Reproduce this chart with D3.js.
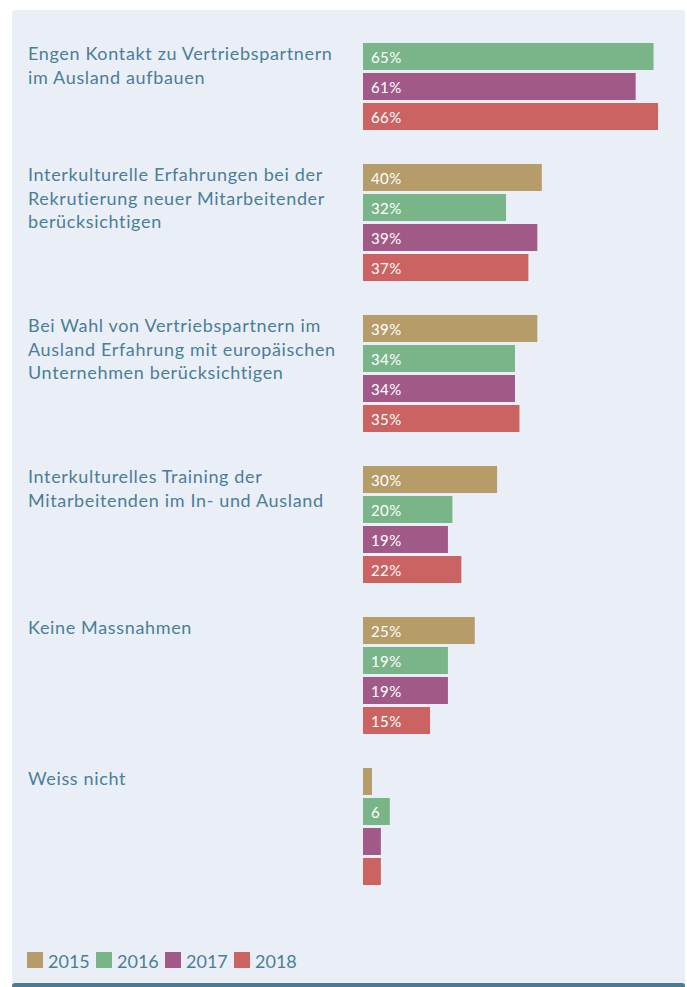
<!DOCTYPE html>
<html><head><meta charset="utf-8">
<script src="https://cdn.jsdelivr.net/npm/d3@7"></script>
<style>html,body{margin:0;padding:0;background:#fff;}svg{display:block;}</style>
</head><body>
<svg id="chart" width="687" height="987"></svg>
<script>
const categories = [
  ["Engen Kontakt zu Vertriebspartnern", "im Ausland aufbauen"],
  ["Interkulturelle Erfahrungen bei der", "Rekrutierung neuer Mitarbeitender", "berücksichtigen"],
  ["Bei Wahl von Vertriebspartnern im", "Ausland Erfahrung mit europäischen", "Unternehmen berücksichtigen"],
  ["Interkulturelles Training der", "Mitarbeitenden im In- und Ausland"],
  ["Keine Massnahmen"],
  ["Weiss nicht"]
];
const years = ["2015", "2016", "2017", "2018"];
const v2015 = [null, 40, 39, 30, 25, 2];
const v2016 = [65, 32, 34, 20, 19, 6];
const v2017 = [61, 39, 34, 19, 19, 4];
const v2018 = [66, 37, 35, 22, 15, 4];
const series = [v2015, v2016, v2017, v2018];
const colors = ["#b59c68", "#79b588", "#a15a87", "#cb6362"];

const svg = d3.select("#chart");
const textColor = "#4a7e97";
const font = "Lato, 'Open Sans', sans-serif";

// panel
svg.append("rect").attr("x", 12).attr("y", 10).attr("width", 673).attr("height", 985)
  .attr("rx", 3).attr("fill", "#eaeff7");
svg.append("rect").attr("x", 12).attr("y", 983).attr("width", 673).attr("height", 12)
  .attr("rx", 3).attr("fill", "#497c94");

const idx = d3.range(categories.length);
const yGroup = d3.scaleBand().domain(idx).range([13, 13 + 151 * categories.length]);
const yBar = d3.scaleBand().domain(years).range([0, 117]).paddingInner(0.1).paddingOuter(0);
const x = d3.scaleLinear().domain([0, 100]).range([363, 810]);

const groups = svg.selectAll("g.grp").data(idx).join("g").attr("class", "grp")
  .attr("transform", i => `translate(0,${yGroup(i)})`);

groups.each(function(i) {
  const g = d3.select(this);
  const rows = years.map((yr, j) => ({yr, j, v: series[j][i]})).filter(d => d.v != null);
  g.selectAll("rect").data(rows).join("rect")
    .attr("x", x(0)).attr("y", d => yBar(d.yr))
    .attr("width", d => x(d.v) - x(0)).attr("height", yBar.bandwidth())
    .attr("fill", d => colors[d.j]);
  g.selectAll("text.val").data(rows.filter(d => d.v >= 5)).join("text").attr("class", "val")
    .attr("x", x(0) + 8).attr("y", d => yBar(d.yr) + 19.5)
    .attr("fill", "#fff").attr("font-family", font).attr("font-size", 15)
    .attr("letter-spacing", 0.4)
    .text(d => d.v >= 10 ? d.v + "%" : d.v);
  const top = yBar(rows[0].yr);
  const t = g.append("text").attr("x", 28).attr("y", top + 17)
    .attr("fill", textColor).attr("font-family", font).attr("font-size", 18)
    .attr("letter-spacing", 0.65);
  categories[i].forEach((line, k) => {
    t.append("tspan").attr("x", 28).attr("y", top + 17 + k * 23.5).text(line);
  });
});

// legend
const leg = svg.append("g").selectAll("g").data(years).join("g")
  .attr("transform", (d, j) => `translate(${27 + j * 69},952)`);
leg.append("rect").attr("width", 16).attr("height", 16).attr("fill", (d, j) => colors[j]);
leg.append("text").attr("x", 21).attr("y", 16).attr("fill", textColor)
  .attr("font-family", font).attr("font-size", 18).text(d => d);
</script>
</body></html>
